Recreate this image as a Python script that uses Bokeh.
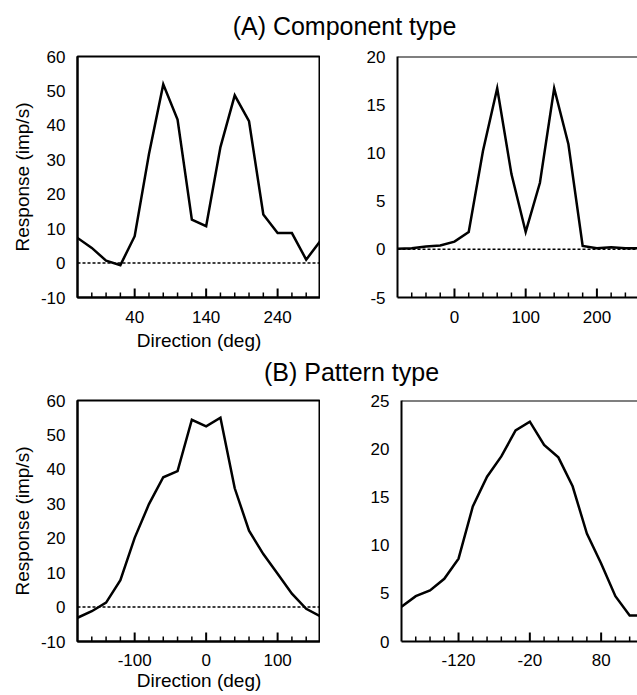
from bokeh.plotting import figure
from bokeh.models import Range1d, FixedTicker, Span, Label
from bokeh.layouts import column, row
from bokeh.embed import file_html
from bokeh.resources import INLINE

# ---------------- data ----------------
# (A) Component type
a_left_dir = [-40, -20, 0, 20, 40, 60, 80, 100, 120, 140, 160, 180, 200, 220, 240, 260, 280, 300]
a_left_resp = [7.3, 4.4, 0.7, -0.6, 7.8, 31.7, 51.9, 41.7, 12.6, 10.7, 33.7, 48.7, 41.2, 14.1, 8.7, 8.7, 1.0, 6.5]

a_right_dir = [-80, -60, -40, -20, 0, 20, 40, 60, 80, 100, 120, 140, 160, 180, 200, 220, 240, 260]
a_right_resp = [0.05, 0.1, 0.3, 0.4, 0.8, 1.8, 10.2, 16.7, 7.8, 1.8, 6.9, 16.7, 10.9, 0.35, 0.1, 0.2, 0.1, 0.1]

# (B) Pattern type
b_left_dir = [-180, -160, -140, -120, -100, -80, -60, -40, -20, 0, 20, 40, 60, 80, 100, 120, 140, 160]
b_left_resp = [-3.1, -1.2, 1.3, 7.8, 20.1, 29.9, 37.7, 39.5, 54.4, 52.5, 55.0, 34.5, 22.2, 15.4, 9.7, 3.9, -0.5, -2.7]

b_right_dir = [-200, -180, -160, -140, -120, -100, -80, -60, -40, -20, 0, 20, 40, 60, 80, 100, 120, 140]
b_right_resp = [3.6, 4.7, 5.3, 6.5, 8.6, 14.0, 17.1, 19.2, 21.9, 22.8, 20.4, 19.1, 16.1, 11.2, 8.1, 4.7, 2.7, 2.7]

# axis ranges and ticks
a_left_xrange = (-40, 300)
a_left_yrange = (-10, 60)
a_left_xmajor = [40, 140, 240]
a_left_xminor = [-20, 0, 20, 60, 80, 100, 120, 160, 180, 200, 220, 260, 280]
a_left_yticks = [-10, 0, 10, 20, 30, 40, 50, 60]

a_right_xrange = (-80, 257)
a_right_yrange = (-5, 20)
a_right_xmajor = [0, 100, 200]
a_right_xminor = [-60, -40, -20, 20, 40, 60, 80, 120, 140, 160, 180, 220, 240]
a_right_yticks = [-5, 0, 5, 10, 15, 20]

b_left_xrange = (-180, 160)
b_left_yrange = (-10, 60)
b_left_xmajor = [-100, 0, 100]
b_left_xminor = [-160, -140, -120, -80, -60, -40, -20, 20, 40, 60, 80, 120, 140]
b_left_yticks = [-10, 0, 10, 20, 30, 40, 50, 60]

b_right_xrange = (-200, 131)
b_right_yrange = (0, 25)
b_right_xmajor = [-120, -20, 80]
b_right_xminor = [-180, -160, -140, -100, -80, -60, -40, 0, 20, 40, 60, 100, 120]
b_right_yticks = [0, 5, 10, 15, 20, 25]

title_a = "(A) Component type"
title_b = "(B) Pattern type"
x_label = "Direction (deg)"
y_label = "Response (imp/s)"

FONT = "Liberation Sans"


def panel(xs, ys, xr, yr, xmajor, xminor, yticks, width, height,
          bl, bt, bb, labels, zero_line, full_box, tick_standoff=13, label_standoff=2):
    p = figure(width=width, height=height, title=None,
               x_range=Range1d(*xr), y_range=Range1d(*yr),
               output_backend="svg", toolbar_location=None,
               min_border_left=bl, min_border_right=0,
               min_border_top=bt, min_border_bottom=bb,
               x_axis_label=x_label if labels else None,
               y_axis_label=y_label if labels else None)
    p.xgrid.visible = False
    p.ygrid.visible = False
    p.background_fill_color = "white"
    p.border_fill_color = "white"
    if full_box:
        p.outline_line_color = "black"
        p.outline_line_width = 2
        p.outline_line_alpha = 1
    else:
        p.outline_line_color = None
        p.add_layout(Span(location=yr[1], dimension="width",
                          line_color="black", line_width=2))

    for ax in (p.xaxis[0], p.yaxis[0]):
        ax.axis_line_color = "black"
        ax.axis_line_width = 2
        ax.major_label_text_font = FONT
        ax.major_label_text_font_size = "17px"
        ax.major_label_text_color = "black"
        ax.axis_label_text_font = FONT
        ax.axis_label_text_font_size = "19px"
        ax.axis_label_text_font_style = "normal"
        ax.axis_label_text_color = "black"
        ax.major_tick_in = 0
        ax.major_tick_out = 0
        ax.minor_tick_in = 0
        ax.minor_tick_out = 0

    xa = p.xaxis[0]
    xa.ticker = FixedTicker(ticks=xmajor, minor_ticks=xminor)
    xa.major_label_overrides = {t: str(t) for t in xmajor}
    xa.major_label_standoff = tick_standoff
    xa.axis_label_standoff = label_standoff

    ya = p.yaxis[0]
    ya.ticker = FixedTicker(ticks=yticks)
    ya.major_label_overrides = {t: str(t) for t in yticks}
    ya.major_label_standoff = 12
    ya.axis_label_standoff = 5

    if zero_line:
        p.add_layout(Span(location=0, dimension="width", line_color="black",
                          line_width=1.5, line_dash="3 2"))

    # inward tick marks on the bottom axis (8 px major, 4 px minor)
    frame_h = height - bt - bb
    per_px = (yr[1] - yr[0]) / frame_h
    p.segment(x0=xmajor, y0=[yr[0]] * len(xmajor), x1=xmajor,
              y1=[yr[0] + 9 * per_px] * len(xmajor), line_color="black", line_width=2)
    p.segment(x0=xminor, y0=[yr[0]] * len(xminor), x1=xminor,
              y1=[yr[0] + 5 * per_px] * len(xminor), line_color="black", line_width=1.5)

    p.line(xs, ys, line_color="black", line_width=2.5, line_join="miter")
    return p


def title_fig(text, height, cx, base):
    t = figure(width=637, height=height, title=None,
               x_range=Range1d(0, 637), y_range=Range1d(0, height),
               output_backend="svg", toolbar_location=None,
               x_axis_location=None, y_axis_location=None, min_border=0)
    t.xgrid.visible = False
    t.ygrid.visible = False
    t.outline_line_color = None
    t.add_layout(Label(x=cx, y=base, text=text, text_align="center",
                       text_baseline="alphabetic", text_font=FONT,
                       text_font_size="25px", text_color="black"))
    return t


ta = title_fig(title_a, 48, 344, 23)
pa1 = panel(a_left_dir, a_left_resp, a_left_xrange, a_left_yrange, a_left_xmajor, a_left_xminor,
            a_left_yticks, 320, 309, 77, 8, 60, True, True, True, label_standoff=4)
pa2 = panel(a_right_dir, a_right_resp, a_right_xrange, a_right_yrange, a_right_xmajor, a_right_xminor,
            a_right_yticks, 317, 309, 77, 8, 60, False, True, False, label_standoff=4)

tb = title_fig(title_b, 30, 351, 16)
pb1 = panel(b_left_dir, b_left_resp, b_left_xrange, b_left_yrange, b_left_xmajor, b_left_xminor,
            b_left_yticks, 320, 308, 77, 13, 54, True, True, True, tick_standoff=12, label_standoff=1)
pb2 = panel(b_right_dir, b_right_resp, b_right_xrange, b_right_yrange, b_right_xmajor, b_right_xminor,
            b_right_yticks, 317, 308, 81, 13, 54, False, False, False, tick_standoff=12, label_standoff=1)

layout = column(ta, row(pa1, pa2), tb, row(pb1, pb2))

open("out.html", "w").write(file_html(layout, INLINE))
